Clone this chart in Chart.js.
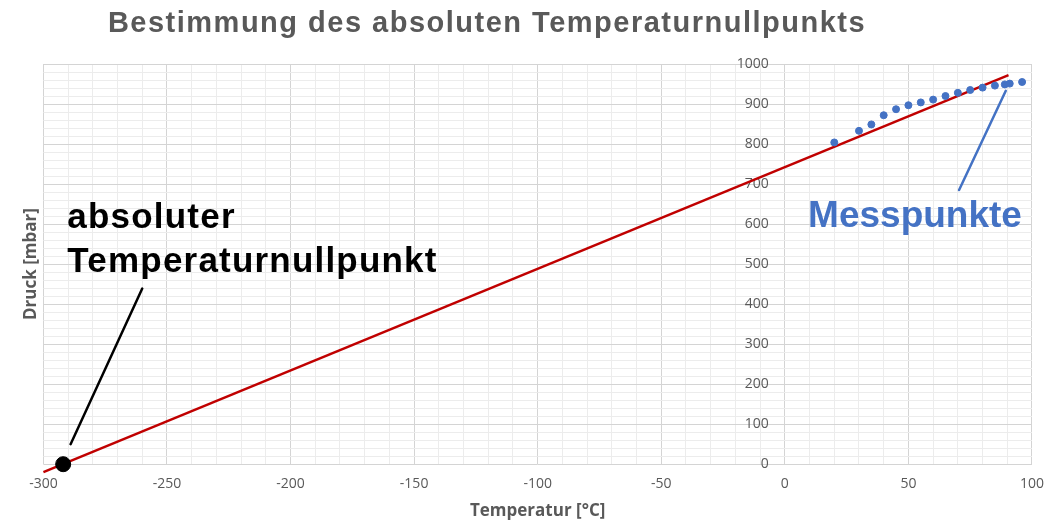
<!DOCTYPE html>
<html>
<head>
<meta charset="utf-8">
<script src="https://cdn.jsdelivr.net/npm/chart.js@4/dist/chart.umd.min.js"></script>
<style>
  html, body { margin: 0; padding: 0; background: #fff; }
  #wrap { width: 1055px; height: 527px; }
</style>
</head>
<body>
<div id="wrap"><canvas id="chart"></canvas></div>
<script>
// Messwerte (Temperatur in °C, Druck in mbar)
const tempC = [20, 30, 35, 40, 45, 50, 55, 60, 65, 70, 75, 80, 85, 89, 91, 96];
const druckMbar = [804, 833, 849, 872, 887, 897, 904, 911, 920, 928, 935, 941, 946, 949, 951, 955];

const trendX = [-300, 90.5];
const trendY = [-20, 972];

// absoluter Nullpunkt
const nullX = [-292];
const nullY = [0];

const xTicks = [-300, -250, -200, -150, -100, -50, 0, 50, 100];
const yTicks = [0, 100, 200, 300, 400, 500, 600, 700, 800, 900, 1000];

const grau = '#595959';
const tickFont = { family: 'Open Sans', size: 14 };
const titleFont = { family: 'Open Sans', size: 17, weight: 'bold' };

const toPoints = (xs, ys) => xs.map((x, i) => ({ x: x, y: ys[i] }));

// Titel, Beschriftungen und Hinweislinien
const annotations = {
  id: 'annotations',
  afterDatasetsDraw(chart) {
    const { ctx, scales: { x, y } } = chart;
    ctx.save();
    ctx.lineWidth = 2.5;
    ctx.lineCap = 'round';

    ctx.strokeStyle = '#000';
    ctx.beginPath();
    ctx.moveTo(x.getPixelForValue(-289), y.getPixelForValue(50));
    ctx.lineTo(x.getPixelForValue(-260), y.getPixelForValue(439));
    ctx.stroke();

    ctx.strokeStyle = '#4472C4';
    ctx.beginPath();
    ctx.moveTo(x.getPixelForValue(70.5), y.getPixelForValue(685));
    ctx.lineTo(x.getPixelForValue(89.4), y.getPixelForValue(933));
    ctx.stroke();

    ctx.textAlign = 'left';
    ctx.textBaseline = 'alphabetic';
    ctx.fillStyle = '#000';
    ctx.font = 'bold 35px "Liberation Sans", Arial, sans-serif';
    ctx.letterSpacing = '1.2px';
    ctx.fillText('absoluter', x.getPixelForValue(-290.3), y.getPixelForValue(591));
    ctx.fillText('Temperaturnullpunkt', x.getPixelForValue(-290.3), y.getPixelForValue(480));

    ctx.fillStyle = '#4472C4';
    ctx.font = 'bold 37px "Liberation Sans", Arial, sans-serif';
    ctx.letterSpacing = '0px';
    ctx.fillText('Messpunkte', x.getPixelForValue(9.4), y.getPixelForValue(593));

    ctx.fillStyle = grau;
    ctx.font = 'bold 29px "Liberation Sans", Arial, sans-serif';
    ctx.letterSpacing = '1.5px';
    ctx.textAlign = 'center';
    ctx.fillText('Bestimmung des absoluten Temperaturnullpunkts', 487, 32);
    ctx.restore();
  }
};

const ctx = document.getElementById('chart').getContext('2d');
new Chart(ctx, {
  type: 'scatter',
  data: {
    datasets: [
      {
        label: 'Trendlinie',
        type: 'line',
        data: toPoints(trendX, trendY),
        borderColor: '#C00000',
        borderWidth: 2.5,
        pointRadius: 0,
        clip: false,
        order: 2
      },
      {
        label: 'Messpunkte',
        data: toPoints(tempC, druckMbar),
        backgroundColor: '#4472C4',
        borderColor: '#4472C4',
        pointRadius: 3.5,
        order: 1
      },
      {
        label: 'Nullpunkt',
        data: toPoints(nullX, nullY),
        backgroundColor: '#000',
        borderColor: '#000',
        pointRadius: 7.5,
        clip: false,
        order: 0
      }
    ]
  },
  options: {
    responsive: true,
    maintainAspectRatio: false,
    animation: false,
    layout: { padding: { top: 64, left: 21, right: 23, bottom: 6 } },
    plugins: {
      legend: { display: false },
      tooltip: { enabled: false }
    },
    scales: {
      x: {
        type: 'linear',
        position: 'bottom',
        min: -300,
        max: 100,
        afterBuildTicks: s => { s.ticks = []; for (let v = -300; v <= 100; v += 10) s.ticks.push({ value: v }); },
        ticks: {
          color: grau,
          font: tickFont,
          padding: 11,
          maxRotation: 0,
          autoSkip: false,
          callback: v => xTicks.includes(v) ? String(v) : ''
        },
        grid: {
          drawTicks: false,
          color: c => (c.tick && xTicks.includes(c.tick.value)) ? '#d4d4d4' : '#ececec'
        },
        border: { display: false },
        title: {
          display: true,
          text: 'Temperatur [°C]',
          color: grau,
          font: { ...titleFont, lineHeight: 1 },
          padding: { top: 0, bottom: 1 }
        }
      },
      y: {
        type: 'linear',
        // labels sit right-aligned ~16px left of the x=0 line
        position: { x: -6.5 },
        min: 0,
        max: 1000,
        afterBuildTicks: s => { s.ticks = []; for (let v = 0; v <= 1000; v += 20) s.ticks.push({ value: v }); },
        ticks: {
          color: grau,
          font: tickFont,
          autoSkip: false,
          callback: v => yTicks.includes(v) ? String(v) : ''
        },
        grid: {
          drawTicks: false,
          color: c => (c.tick && yTicks.includes(c.tick.value)) ? '#d4d4d4' : '#ececec'
        },
        border: { display: false }
      },
      yTitle: {
        type: 'linear',
        position: 'left',
        ticks: { display: false },
        grid: { display: false, drawTicks: false },
        border: { display: false },
        title: {
          display: true,
          text: 'Druck [mbar]',
          color: grau,
          font: titleFont,
          padding: { top: 0, bottom: 2 }
        }
      }
    }
  },
  plugins: [annotations]
});
</script>
</body>
</html>
